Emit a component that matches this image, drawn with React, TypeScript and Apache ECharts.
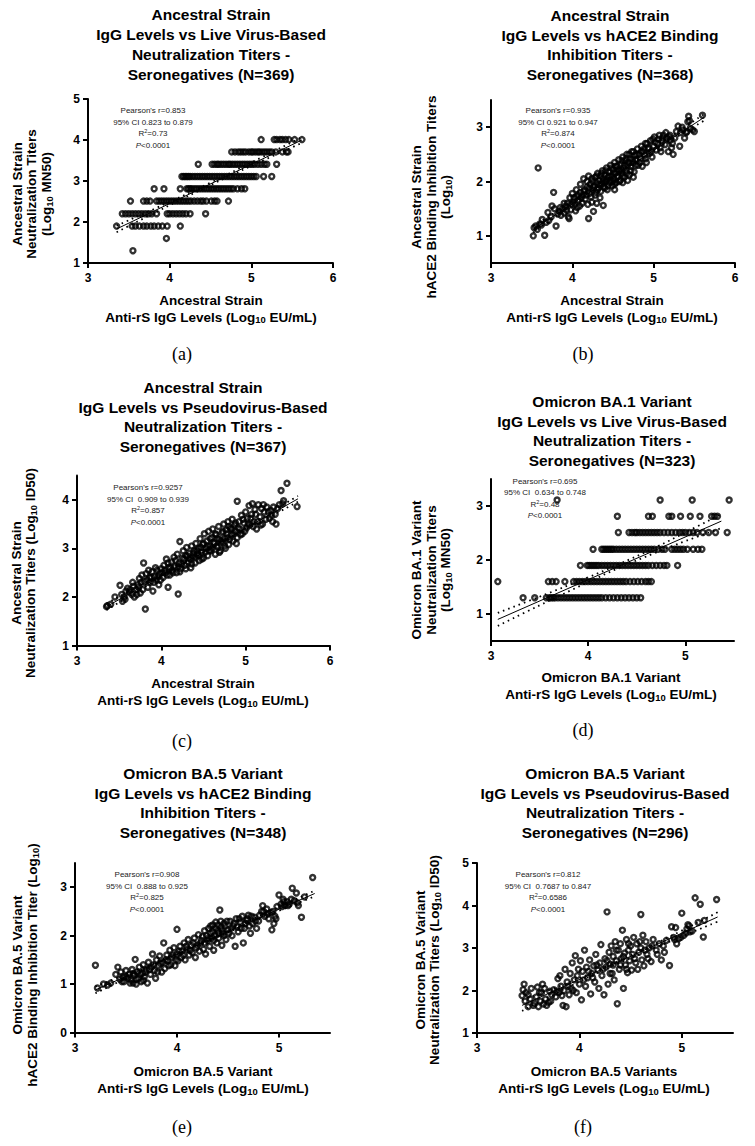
import React, { useEffect, useRef } from 'react';
import * as echarts from 'echarts';

const FONT = '"Liberation Sans", Arial, sans-serif';
const SERIF = '"Liberation Serif", "Times New Roman", serif';

// ---------- Panel (a): Ancestral, live-virus MN50 (discrete titer rows) ----------
const aRowY = [4.01, 3.71, 3.41, 3.11, 2.81, 2.51, 2.2, 1.9, 1.6, 1.3];
const aRowX = [
  [5.12, 5.28, 5.31, 5.35, 5.38, 5.42, 5.46, 5.53, 5.62],
  [4.76, 4.8, 4.84, 4.87, 4.9, 4.93, 4.97, 5.0, 5.02, 5.05, 5.08, 5.1, 5.13, 5.16, 5.19, 5.22, 5.25, 5.3, 5.38, 5.43, 5.45],
  [4.35, 4.52, 4.55, 4.58, 4.6, 4.63, 4.66, 4.69, 4.72, 4.74, 4.77, 4.8, 4.83, 4.86, 4.89, 4.92, 4.95, 4.98, 5.01, 5.04, 5.08, 5.12, 5.16, 5.19, 5.31],
  [4.15, 4.17, 4.19, 4.21, 4.23, 4.25, 4.28, 4.31, 4.34, 4.37, 4.4, 4.43, 4.46, 4.49, 4.52, 4.55, 4.58, 4.61, 4.64, 4.67, 4.7, 4.73, 4.76, 4.79, 4.82, 4.85, 4.88, 4.91, 4.94, 4.97, 5.0, 5.03, 5.06, 5.15, 5.25],
  [3.81, 3.93, 4.13, 4.21, 4.23, 4.25, 4.27, 4.3, 4.33, 4.36, 4.39, 4.42, 4.45, 4.48, 4.51, 4.54, 4.57, 4.6, 4.63, 4.66, 4.69, 4.72, 4.75, 4.78, 4.83, 4.88, 4.92],
  [3.52, 3.68, 3.72, 3.76, 3.84, 3.87, 3.9, 3.93, 3.96, 3.99, 4.02, 4.05, 4.08, 4.11, 4.14, 4.17, 4.2, 4.23, 4.26, 4.3, 4.34, 4.38, 4.41, 4.45, 4.51, 4.55, 4.58, 4.72],
  [3.42, 3.46, 3.5, 3.54, 3.58, 3.62, 3.66, 3.7, 3.74, 3.78, 3.84, 3.97, 4.0, 4.04, 4.08, 4.12, 4.16, 4.2, 4.25, 4.44],
  [3.35, 3.54, 3.58, 3.63, 3.68, 3.72, 3.77, 3.81, 3.86, 3.91, 3.97, 4.13],
  [3.96],
  [3.55],
];
const aFit = [[3.35, 1.83], [5.62, 4.0]];
const aCiHi = [[3.35, 1.91], [4.0, 2.49], [4.5, 2.96], [5.0, 3.45], [5.62, 4.07]];
const aCiLo = [[3.35, 1.75], [4.0, 2.41], [4.5, 2.90], [5.0, 3.37], [5.62, 3.93]];

// ---------- Panel (b): Ancestral, hACE2 binding inhibition ----------
const bPts = [
  [3.52, 1.0], [3.53, 1.15], [3.55, 1.18], [3.57, 1.12], [3.6, 1.22], [3.62, 1.2], [3.63, 1.3], [3.66, 1.01], [3.68, 1.25], [3.7, 1.43],
  [3.71, 1.28], [3.74, 1.35], [3.75, 1.55], [3.77, 1.8], [3.78, 1.5], [3.8, 1.18], [3.82, 1.4], [3.84, 1.45], [3.86, 1.38], [3.88, 1.5],
  [3.9, 1.42], [3.92, 1.55], [3.94, 1.6], [3.95, 1.35], [3.96, 1.32], [3.97, 1.7], [3.98, 1.48], [4.0, 1.78], [4.01, 1.62], [4.03, 1.58],
  [4.05, 1.72], [4.06, 1.52], [4.08, 1.66], [4.1, 1.8], [4.1, 1.95], [4.12, 1.6], [4.13, 1.75], [4.14, 2.05], [4.15, 1.85], [4.16, 1.68],
  [4.18, 1.9], [4.19, 1.58], [4.2, 1.32], [4.2, 2.1], [4.21, 1.78], [4.22, 1.95], [4.24, 1.62], [4.25, 1.85], [4.25, 2.0], [4.26, 1.45],
  [4.27, 1.92], [4.28, 2.08], [4.29, 1.8], [4.3, 1.98], [4.31, 2.15], [4.32, 1.88], [4.33, 2.02], [4.34, 1.7], [4.35, 2.1], [4.36, 1.95],
  [4.37, 2.2], [4.38, 1.56], [4.38, 2.05], [4.39, 1.9], [4.4, 2.12], [4.41, 2.0], [4.42, 2.25], [4.43, 1.85], [4.44, 2.08], [4.45, 2.18],
  [4.46, 1.98], [4.47, 2.3], [4.48, 2.1], [4.49, 1.92], [4.5, 2.22], [4.51, 2.05], [4.52, 2.35], [4.53, 2.15], [4.54, 1.98], [4.55, 2.28],
  [4.56, 2.1], [4.57, 2.4], [4.58, 2.2], [4.59, 2.02], [4.6, 2.32], [4.61, 2.15], [4.62, 2.45], [4.63, 2.25], [4.64, 2.08], [4.65, 2.38],
  [4.66, 2.2], [4.67, 2.5], [4.68, 2.3], [4.7, 2.12], [4.71, 2.42], [4.72, 2.28], [4.73, 2.55], [4.75, 2.35], [4.76, 2.18], [4.77, 2.48],
  [4.78, 2.4], [4.8, 2.6], [4.81, 2.3], [4.82, 2.5], [4.84, 2.42], [4.85, 2.65], [4.86, 2.28], [4.87, 2.55], [4.89, 2.48], [4.9, 2.7],
  [4.91, 2.35], [4.93, 2.6], [4.95, 2.52], [4.96, 2.75], [4.98, 2.45], [5.0, 2.65], [5.01, 2.82], [5.03, 2.58], [5.05, 2.7], [5.07, 2.85],
  [5.08, 2.62], [5.1, 2.75], [5.12, 2.85], [5.14, 2.68], [5.16, 2.8], [5.18, 2.55], [5.19, 2.82], [5.2, 2.75], [5.22, 2.62], [5.24, 2.5],
  [5.26, 2.8], [5.28, 2.92], [5.3, 3.02], [5.32, 2.65], [5.33, 2.9], [5.36, 2.95], [5.4, 2.9], [5.42, 3.1], [5.43, 3.2], [5.45, 2.98],
  [5.48, 2.95], [5.5, 2.92], [5.6, 3.22], [3.58, 2.25],
];
const bPtsMore = [
  [3.85, 1.52], [3.9, 1.6], [3.93, 1.47], [3.99, 1.58], [4.02, 1.7], [4.04, 1.46], [4.07, 1.75], [4.09, 1.55], [4.11, 1.7], [4.14, 1.82],
  [4.17, 1.75], [4.18, 2.0], [4.21, 1.88], [4.23, 1.72], [4.24, 2.05], [4.26, 1.9], [4.28, 1.75], [4.3, 2.1], [4.31, 1.85], [4.33, 1.95],
  [4.35, 1.82], [4.36, 2.15], [4.38, 2.0], [4.4, 1.88], [4.41, 2.2], [4.42, 2.02], [4.44, 1.92], [4.45, 2.1], [4.47, 2.02], [4.48, 2.25],
  [4.5, 2.0], [4.51, 2.15], [4.52, 1.95], [4.53, 2.28], [4.55, 2.08], [4.56, 2.22], [4.58, 2.0], [4.6, 2.2], [4.61, 2.38], [4.62, 2.1],
  [4.64, 2.3], [4.66, 2.42], [4.67, 2.15], [4.69, 2.35], [4.7, 2.5], [4.72, 2.2], [4.74, 2.4], [4.75, 2.55], [4.78, 2.3], [4.79, 2.5],
  [4.83, 2.35], [4.85, 2.55], [4.88, 2.6], [4.9, 2.42], [4.92, 2.7], [4.94, 2.62], [4.97, 2.55], [4.99, 2.78], [5.02, 2.72], [5.06, 2.78],
  [5.09, 2.55], [5.11, 2.8], [5.15, 2.9], [5.2, 2.85], [5.23, 2.7], [5.35, 3.0], [5.38, 2.8], [5.41, 2.92], [5.44, 3.12], [4.62, 1.98],
  [4.75, 2.08], [4.52, 1.85], [4.05, 1.85], [4.3, 1.6], [4.68, 2.02],
];
const bFit = [[3.52, 1.12], [5.62, 3.18]];
const bCiHi = [[3.52, 1.18], [4.0, 1.63], [4.5, 2.12], [5.0, 2.62], [5.62, 3.24]];
const bCiLo = [[3.52, 1.06], [4.0, 1.57], [4.5, 2.08], [5.0, 2.56], [5.62, 3.12]];

// ---------- Panel (c): Ancestral, pseudovirus ID50 ----------
const cPts = [
  [3.35, 1.8], [3.36, 1.82], [3.4, 1.85], [3.51, 2.24], [3.53, 2.05], [3.54, 1.91], [3.56, 2.0], [3.58, 2.12], [3.6, 2.18], [3.62, 2.1],
  [3.65, 2.05], [3.67, 2.22], [3.68, 2.0], [3.7, 2.15], [3.72, 2.25], [3.74, 2.38], [3.75, 2.08], [3.77, 2.45], [3.79, 2.7], [3.8, 2.32],
  [3.81, 1.75], [3.82, 2.48], [3.84, 2.2], [3.86, 2.4], [3.87, 2.3], [3.89, 2.52], [3.9, 2.12], [3.92, 2.42], [3.94, 2.35], [3.95, 2.55],
  [3.97, 2.25], [3.98, 2.48], [4.0, 2.58], [4.02, 2.4], [4.03, 2.65], [4.05, 2.5], [4.06, 2.78], [4.08, 2.2], [4.09, 2.6], [4.1, 2.45],
  [4.12, 2.72], [4.13, 2.55], [4.15, 2.82], [4.16, 2.62], [4.18, 2.5], [4.19, 2.88], [4.2, 2.06], [4.21, 2.7], [4.22, 3.14], [4.23, 2.58],
  [4.25, 2.8], [4.26, 2.95], [4.28, 2.65], [4.29, 2.85], [4.3, 3.02], [4.32, 2.72], [4.33, 2.9], [4.35, 2.6], [4.36, 3.05], [4.37, 2.82],
  [4.39, 2.95], [4.4, 2.7], [4.41, 3.1], [4.43, 2.88], [4.44, 3.0], [4.45, 2.75], [4.46, 3.2], [4.48, 2.92], [4.49, 3.08], [4.5, 2.8],
  [4.51, 3.3], [4.53, 3.0], [4.54, 3.15], [4.55, 2.85], [4.56, 3.35], [4.58, 3.05], [4.59, 2.95], [4.6, 3.22], [4.61, 3.4], [4.63, 3.1],
  [4.64, 2.88], [4.65, 3.28], [4.67, 3.02], [4.68, 3.45], [4.69, 3.18], [4.7, 2.95], [4.72, 3.32], [4.73, 3.12], [4.74, 3.5], [4.75, 3.05],
  [4.77, 3.38], [4.78, 3.22], [4.79, 3.55], [4.8, 3.08], [4.82, 3.42], [4.83, 3.28], [4.84, 3.6], [4.85, 3.15], [4.87, 3.48], [4.88, 3.35],
  [4.9, 3.97], [4.9, 3.22], [4.92, 3.55], [4.93, 3.4], [4.95, 3.68], [4.96, 3.3], [4.98, 3.52], [5.0, 3.75], [5.01, 3.42], [5.02, 3.62],
  [5.04, 3.88], [5.05, 3.48], [5.07, 3.7], [5.08, 3.92], [5.1, 3.55], [5.11, 3.8], [5.13, 3.4], [5.15, 3.9], [5.17, 3.65], [5.19, 3.82],
  [5.2, 3.5], [5.22, 3.75], [5.25, 3.85], [5.28, 3.62], [5.3, 3.78], [5.32, 3.55], [5.35, 3.7], [5.38, 3.82], [5.4, 3.9], [5.42, 4.19],
  [5.45, 3.98], [5.49, 4.34], [5.61, 3.86],
];
const cPtsMore = [
  [3.45, 2.0], [3.57, 1.95], [3.63, 2.15], [3.66, 2.3], [3.71, 2.05], [3.73, 2.2], [3.76, 2.3], [3.78, 2.15], [3.83, 2.35], [3.85, 2.55],
  [3.88, 2.4], [3.91, 2.3], [3.93, 2.6], [3.96, 2.42], [3.99, 2.35], [4.01, 2.5], [4.04, 2.55], [4.07, 2.45], [4.08, 2.7], [4.11, 2.6],
  [4.14, 2.5], [4.17, 2.75], [4.2, 2.62], [4.22, 2.52], [4.24, 2.68], [4.27, 2.78], [4.29, 2.58], [4.31, 2.85], [4.34, 2.78], [4.36, 2.68],
  [4.38, 2.9], [4.4, 2.82], [4.42, 2.95], [4.44, 2.85], [4.47, 3.02], [4.48, 2.78], [4.5, 3.1], [4.52, 2.92], [4.55, 3.05], [4.57, 2.95],
  [4.58, 3.2], [4.6, 3.0], [4.62, 3.12], [4.64, 3.3], [4.66, 3.05], [4.67, 3.2], [4.69, 2.92], [4.71, 3.15], [4.73, 3.35], [4.75, 3.2],
  [4.76, 3.0], [4.78, 3.3], [4.8, 3.45], [4.81, 3.18], [4.83, 3.4], [4.86, 3.3], [4.88, 3.52], [4.89, 3.1], [4.91, 3.42], [4.94, 3.28],
  [4.97, 3.6], [4.99, 3.35], [5.03, 3.5], [5.06, 3.62], [5.09, 3.45], [5.12, 3.7], [5.14, 3.55], [5.18, 3.48], [5.21, 3.9], [5.24, 3.6],
  [5.27, 3.75], [5.31, 3.68], [5.33, 3.85], [5.36, 3.5], [5.44, 3.92],
];
const cFit = [[3.35, 1.8], [5.62, 4.02]];
const cCiHi = [[3.35, 1.87], [4.0, 2.47], [4.5, 2.95], [5.0, 3.44], [5.62, 4.08]];
const cCiLo = [[3.35, 1.73], [4.0, 2.41], [4.5, 2.91], [5.0, 3.38], [5.62, 3.96]];

// ---------- Panel (d): Omicron BA.1, live-virus MN50 (discrete titer rows) ----------
const dRowY = [3.11, 2.81, 2.51, 2.2, 1.9, 1.6, 1.3];
const dRowX = [
  [3.68, 4.74, 5.07, 5.45],
  [4.3, 4.62, 4.66, 4.83, 4.86, 4.95, 5.05, 5.15, 5.27, 5.3, 5.33],
  [4.31, 4.42, 4.45, 4.48, 4.5, 4.53, 4.56, 4.59, 4.62, 4.65, 4.68, 4.71, 4.74, 4.78, 4.82, 4.86, 4.9, 4.94, 4.97, 5.0, 5.04, 5.08, 5.12, 5.18, 5.24, 5.31, 5.43],
  [4.05, 4.14, 4.16, 4.18, 4.2, 4.22, 4.24, 4.26, 4.29, 4.32, 4.35, 4.38, 4.41, 4.44, 4.47, 4.5, 4.53, 4.56, 4.59, 4.62, 4.65, 4.68, 4.72, 4.76, 4.79, 4.86, 4.89, 4.92, 4.95, 4.98, 5.02, 5.08, 5.13, 5.17],
  [3.92, 3.99, 4.01, 4.03, 4.05, 4.07, 4.09, 4.11, 4.14, 4.17, 4.2, 4.23, 4.26, 4.29, 4.32, 4.35, 4.38, 4.41, 4.44, 4.47, 4.5, 4.53, 4.56, 4.59, 4.62, 4.66, 4.7, 4.74, 4.78, 4.81, 4.92],
  [3.07, 3.59, 3.63, 3.67, 3.76, 3.85, 3.88, 3.91, 3.94, 3.97, 4.0, 4.03, 4.06, 4.09, 4.12, 4.15, 4.18, 4.21, 4.24, 4.27, 4.3, 4.33, 4.36, 4.39, 4.43, 4.47, 4.51, 4.55, 4.59, 4.62, 4.65],
  [3.33, 3.45, 3.57, 3.6, 3.62, 3.64, 3.66, 3.69, 3.72, 3.75, 3.78, 3.81, 3.84, 3.87, 3.9, 3.93, 3.96, 3.99, 4.02, 4.05, 4.08, 4.11, 4.14, 4.18, 4.22, 4.26, 4.3, 4.34, 4.38, 4.42, 4.46, 4.5, 4.54],
];
const dFit = [[3.07, 0.9], [5.37, 2.72]];
const dCiHi = [[3.07, 1.02], [3.5, 1.32], [4.0, 1.68], [4.3, 1.91], [4.7, 2.24], [5.0, 2.51], [5.37, 2.85]];
const dCiLo = [[3.07, 0.78], [3.5, 1.16], [4.0, 1.59], [4.3, 1.84], [4.7, 2.14], [5.0, 2.35], [5.37, 2.59]];

// ---------- Panel (e): Omicron BA.5, hACE2 binding inhibition ----------
const ePts = [
  [3.2, 1.39], [3.22, 0.92], [3.28, 1.0], [3.32, 0.98], [3.35, 1.02], [3.4, 1.2], [3.42, 1.35], [3.44, 1.1], [3.45, 1.25], [3.47, 1.15],
  [3.48, 1.05], [3.5, 1.28], [3.52, 1.12], [3.53, 1.2], [3.55, 1.08], [3.56, 1.3], [3.57, 1.02], [3.58, 1.18], [3.59, 1.51], [3.6, 1.0],
  [3.61, 1.25], [3.62, 1.12], [3.63, 1.35], [3.65, 1.05], [3.66, 1.22], [3.67, 1.4], [3.68, 1.15], [3.7, 1.3], [3.71, 1.02], [3.72, 1.45],
  [3.74, 1.2], [3.75, 1.35], [3.76, 1.62], [3.78, 1.28], [3.79, 1.12], [3.8, 1.5], [3.82, 1.38], [3.83, 1.58], [3.85, 1.25], [3.86, 1.45],
  [3.87, 1.85], [3.88, 1.32], [3.9, 1.6], [3.91, 1.48], [3.93, 1.7], [3.94, 1.4], [3.95, 1.55], [3.97, 1.75], [3.98, 1.38], [4.0, 2.13],
  [4.0, 1.62], [4.01, 1.48], [4.03, 1.78], [4.04, 1.55], [4.05, 1.68], [4.07, 1.85], [4.08, 1.5], [4.1, 1.72], [4.11, 1.92], [4.12, 1.6],
  [4.14, 1.8], [4.15, 1.65], [4.17, 1.95], [4.18, 1.55], [4.19, 1.75], [4.21, 2.02], [4.22, 1.68], [4.23, 1.85], [4.25, 1.98], [4.26, 1.72],
  [4.27, 2.1], [4.28, 1.62], [4.3, 1.9], [4.31, 2.15], [4.32, 1.78], [4.33, 2.05], [4.34, 1.95], [4.35, 2.22], [4.36, 1.7], [4.37, 2.0],
  [4.38, 2.28], [4.39, 1.85], [4.4, 2.1], [4.41, 1.95], [4.42, 2.53], [4.43, 2.18], [4.44, 1.8], [4.45, 2.05], [4.46, 2.25], [4.48, 1.92],
  [4.5, 2.12], [4.52, 2.3], [4.54, 2.0], [4.55, 2.2], [4.57, 1.78], [4.58, 2.35], [4.6, 2.08], [4.62, 2.28], [4.64, 2.4], [4.65, 1.85],
  [4.66, 2.15], [4.68, 2.32], [4.7, 2.42], [4.72, 2.05], [4.74, 2.25], [4.76, 2.38], [4.78, 2.15], [4.8, 2.3], [4.83, 2.5], [4.84, 2.62],
  [4.86, 2.4], [4.88, 2.55], [4.9, 2.35], [4.92, 2.48], [4.93, 2.12], [4.95, 2.25], [4.96, 2.4], [4.98, 2.6], [5.0, 2.84], [5.02, 2.65],
  [5.04, 2.75], [5.06, 2.62], [5.08, 2.7], [5.1, 2.65], [5.13, 2.98], [5.15, 2.72], [5.17, 2.88], [5.19, 2.62], [5.22, 2.38], [5.25, 2.8],
  [5.33, 3.2],
];
const ePtsMore = [
  [3.46, 1.05], [3.5, 1.15], [3.54, 1.02], [3.57, 1.22], [3.6, 1.1], [3.64, 1.2], [3.67, 1.08], [3.69, 1.25], [3.73, 1.3], [3.77, 1.4],
  [3.81, 1.25], [3.84, 1.42], [3.89, 1.5], [3.92, 1.38], [3.96, 1.6], [3.99, 1.5], [4.02, 1.68], [4.06, 1.6], [4.09, 1.78], [4.13, 1.7],
  [4.16, 1.85], [4.2, 1.8], [4.24, 1.9], [4.27, 1.85], [4.29, 2.0], [4.31, 1.95], [4.33, 2.2], [4.35, 2.08], [4.36, 1.9], [4.38, 2.15],
  [4.4, 2.22], [4.41, 2.05], [4.43, 2.3], [4.44, 2.12], [4.46, 2.0], [4.47, 2.2], [4.49, 2.3], [4.51, 2.05], [4.53, 2.15], [4.56, 2.25],
  [4.59, 2.18], [4.61, 2.35], [4.63, 2.15], [4.67, 2.25], [4.69, 2.35], [4.71, 2.2], [4.73, 2.4], [4.77, 2.3], [4.81, 2.42], [4.85, 2.5],
  [4.89, 2.45], [4.94, 2.5], [4.97, 2.35], [5.03, 2.6], [5.05, 2.7], [5.09, 2.62], [5.12, 2.75], [5.18, 2.68],
];
const eFit = [[3.2, 0.88], [5.35, 2.87]];
const eCiHi = [[3.2, 0.95], [3.8, 1.46], [4.3, 1.92], [4.8, 2.40], [5.35, 2.93]];
const eCiLo = [[3.2, 0.81], [3.8, 1.42], [4.3, 1.88], [4.8, 2.34], [5.35, 2.81]];

// ---------- Panel (f): Omicron BA.5, pseudovirus ID50 ----------
const fPts = [
  [3.44, 1.88], [3.45, 2.02], [3.46, 2.15], [3.47, 1.75], [3.48, 1.95], [3.5, 1.62], [3.52, 1.8], [3.53, 2.05], [3.55, 1.65], [3.56, 1.7],
  [3.58, 1.85], [3.59, 2.08], [3.6, 1.62], [3.62, 1.75], [3.63, 1.95], [3.64, 2.15], [3.65, 1.68], [3.67, 1.8], [3.68, 1.65], [3.7, 1.72],
  [3.71, 1.98], [3.73, 1.9], [3.75, 2.02], [3.77, 1.85], [3.79, 2.28], [3.8, 1.95], [3.81, 2.35], [3.82, 2.1], [3.84, 1.65], [3.85, 2.0],
  [3.86, 2.5], [3.87, 1.62], [3.88, 2.2], [3.9, 1.9], [3.91, 2.4], [3.92, 2.05], [3.93, 2.65], [3.95, 2.25], [3.96, 2.82], [3.97, 1.95],
  [3.98, 2.35], [4.0, 2.15], [4.01, 2.7], [4.02, 1.78], [4.03, 2.45], [4.05, 2.95], [4.06, 2.1], [4.07, 2.55], [4.08, 2.3], [4.1, 2.72],
  [4.11, 1.92], [4.12, 2.4], [4.14, 2.58], [4.15, 2.2], [4.16, 2.85], [4.18, 2.48], [4.19, 2.05], [4.2, 2.65], [4.21, 3.08], [4.22, 2.35],
  [4.24, 1.9], [4.25, 2.75], [4.26, 2.55], [4.27, 3.85], [4.28, 2.15], [4.29, 2.9], [4.3, 2.62], [4.31, 3.05], [4.32, 2.4], [4.33, 2.8],
  [4.34, 2.25], [4.35, 3.15], [4.36, 2.7], [4.37, 1.69], [4.38, 2.95], [4.39, 2.5], [4.4, 3.1], [4.41, 2.75], [4.42, 3.42], [4.43, 2.05],
  [4.44, 2.88], [4.45, 2.6], [4.46, 3.2], [4.47, 2.42], [4.48, 2.95], [4.49, 2.7], [4.5, 3.05], [4.51, 2.48], [4.52, 2.85], [4.53, 3.25],
  [4.55, 2.65], [4.56, 3.1], [4.57, 2.5], [4.58, 2.9], [4.6, 3.79], [4.6, 3.0], [4.61, 2.72], [4.62, 3.3], [4.63, 2.58], [4.65, 3.15],
  [4.66, 2.85], [4.68, 3.0], [4.7, 2.68], [4.72, 3.2], [4.75, 2.95], [4.78, 3.1], [4.8, 2.72], [4.82, 3.05], [4.85, 3.18], [4.88, 2.59],
  [4.9, 3.5], [4.92, 3.25], [4.94, 3.48], [4.95, 3.1], [4.97, 3.22], [5.0, 3.82], [5.02, 3.3], [5.05, 3.45], [5.07, 3.52], [5.08, 3.38],
  [5.1, 3.4], [5.13, 4.18], [5.16, 3.6], [5.18, 4.03], [5.21, 3.26], [5.22, 3.65], [5.34, 4.14],
];
const fPtsMore = [
  [3.5, 1.9], [3.61, 1.95], [3.66, 2.05], [3.72, 1.75], [3.78, 1.98], [3.83, 1.88], [3.89, 2.1], [3.94, 2.0], [3.99, 2.5], [4.04, 2.25],
  [4.09, 2.45], [4.13, 2.3], [4.17, 2.6], [4.23, 2.5], [4.27, 2.7], [4.3, 2.4], [4.33, 2.6], [4.36, 2.95], [4.4, 2.6], [4.43, 2.8],
  [4.46, 2.5], [4.48, 3.1], [4.54, 2.75], [4.59, 3.15], [4.64, 2.95], [4.67, 2.75], [4.71, 3.05], [4.76, 2.85], [4.83, 2.9], [4.93, 3.2],
  [4.99, 3.25], [5.04, 3.35], [5.06, 3.55],
];
const fFit = [[3.44, 1.65], [5.35, 3.73]];
const fCiHi = [[3.44, 1.78], [3.9, 2.19], [4.3, 2.61], [4.8, 3.17], [5.35, 3.84]];
const fCiLo = [[3.44, 1.52], [3.9, 2.09], [4.3, 2.55], [4.8, 3.07], [5.35, 3.62]];

// ---------- Axes ----------
const xTicksA = [3, 4, 5, 6];
const xTicksB = [3, 4, 5];
const yTicks1to5 = [1, 2, 3, 4, 5];
const yTicks1to3 = [1, 2, 3];
const yTicks1to4 = [1, 2, 3, 4];
const yTicks0to3 = [0, 1, 2, 3];

const aPts = aRowY.flatMap((y, i) => aRowX[i].map((x) => [x, y]));
const dPts = dRowY.flatMap((y, i) => dRowX[i].map((x) => [x, y]));

const panels = [
  { grid: { left: 88, top: 99, width: 245, height: 164 }, x: [3, 6], xt: xTicksA, y: [1, 5], yt: yTicks1to5, pts: aPts, fit: aFit, hi: aCiHi, lo: aCiLo },
  { grid: { left: 491, top: 100, width: 244, height: 163 }, x: [3, 6], xt: xTicksA, y: [0.5, 3.5], yt: yTicks1to3, pts: bPts.concat(bPtsMore), fit: bFit, hi: bCiHi, lo: bCiLo },
  { grid: { left: 77, top: 475.5, width: 253, height: 170 }, x: [3, 6], xt: xTicksA, y: [1, 4.5], yt: yTicks1to4, pts: cPts.concat(cPtsMore), fit: cFit, hi: cCiHi, lo: cCiLo },
  { grid: { left: 491, top: 479, width: 243, height: 162 }, x: [3, 5.5], xt: xTicksB, y: [0.5, 3.5], yt: yTicks1to3, pts: dPts, fit: dFit, hi: dCiHi, lo: dCiLo },
  { grid: { left: 75, top: 863, width: 255, height: 169.5 }, x: [3, 5.5], xt: xTicksB, y: [0, 3.5], yt: yTicks0to3, pts: ePts.concat(ePtsMore), fit: eFit, hi: eCiHi, lo: eCiLo },
  { grid: { left: 477, top: 863, width: 256, height: 170 }, x: [3, 5.5], xt: xTicksB, y: [1, 5], yt: yTicks1to5, pts: fPts.concat(fPtsMore), fit: fFit, hi: fCiHi, lo: fCiLo },
];

// ---------- Texts ----------
const titles = [
  { x: 211, y: 44.5, t: 'Ancestral Strain\nIgG Levels vs Live Virus-Based\nNeutralization Titers -\nSeronegatives (N=369)' },
  { x: 610, y: 45, t: 'Ancestral Strain\nIgG Levels vs hACE2 Binding\nInhibition Titers -\nSeronegatives (N=368)' },
  { x: 203, y: 417, t: 'Ancestral Strain\nIgG Levels vs Pseudovirus-Based\nNeutralization Titers -\nSeronegatives (N=367)' },
  { x: 612, y: 431, t: 'Omicron BA.1 Variant\nIgG Levels vs Live Virus-Based\nNeutralization Titers -\nSeronegatives (N=323)' },
  { x: 203, y: 803, t: 'Omicron BA.5 Variant\nIgG Levels vs hACE2 Binding\nInhibition Titers -\nSeronegatives (N=348)' },
  { x: 605, y: 803, t: 'Omicron BA.5 Variant\nIgG Levels vs Pseudovirus-Based\nNeutralization Titers -\nSeronegatives (N=296)' },
];
const xTitles = [
  { x: 211, y: 308.5, t: 'Ancestral Strain\nAnti-rS IgG Levels (Log{sub|10} EU/mL)' },
  { x: 612, y: 308.5, t: 'Ancestral Strain\nAnti-rS IgG Levels (Log{sub|10} EU/mL)' },
  { x: 203, y: 692, t: 'Ancestral Strain\nAnti-rS IgG Levels (Log{sub|10} EU/mL)' },
  { x: 611, y: 686, t: 'Omicron BA.1 Variant\nAnti-rS IgG Levels (Log{sub|10} EU/mL)' },
  { x: 203, y: 1080, t: 'Omicron BA.5 Variant\nAnti-rS IgG Levels (Log{sub|10} EU/mL)' },
  { x: 604, y: 1080, t: 'Omicron BA.5 Variants\nAnti-rS IgG Levels (Log{sub|10} EU/mL)' },
];
const yTitles = [
  { x: 31.7, y: 194, t: 'Ancestral Strain\nNeutralization Titers\n(Log{sub|10} MN50)' },
  { x: 431, y: 197, t: 'Ancestral Strain\nhACE2 Binding Inhibition Titers\n(Log{sub|10})' },
  { x: 23.5, y: 573, t: 'Ancestral Strain\nNeutralization Titers (Log{sub|10} ID50)' },
  { x: 431, y: 570, t: 'Omicron BA.1 Variant\nNeutralization Titers\n(Log{sub|10} MN50)' },
  { x: 25, y: 965, t: 'Omicron BA.5 Variant\nhACE2 Binding Inhibition Titer (Log{sub|10})' },
  { x: 427.5, y: 960, t: 'Omicron BA.5 Variant\nNeutralization Titers (Log{sub|10} ID50)' },
];
const stats = [
  { x: 153, y: 128, t: "Pearson's r=0.853\n95% CI 0.823 to 0.879\nR{sup|2}=0.73\n{i|P}<0.0001" },
  { x: 558, y: 128, t: "Pearson's r=0.935\n95% CI 0.921 to 0.947\nR{sup|2}=0.874\n{i|P}<0.0001" },
  { x: 148, y: 505, t: "Pearson's r=0.9257\n95% CI  0.909 to 0.939\nR{sup|2}=0.857\n{i|P}<0.0001" },
  { x: 545, y: 498.5, t: "Pearson's r=0.695\n95% CI  0.634 to 0.748\nR{sup|2}=0.48\n{i|P}<0.0001" },
  { x: 147, y: 892, t: "Pearson's r=0.908\n95% CI  0.888 to 0.925\nR{sup|2}=0.825\n{i|P}<0.0001" },
  { x: 548, y: 892, t: "Pearson's r=0.812\n95% CI  0.7687 to 0.847\nR{sup|2}=0.6586\n{i|P}<0.0001" },
];
const panelLabels = [
  { x: 182, y: 354, t: '(a)' },
  { x: 583, y: 354, t: '(b)' },
  { x: 182, y: 741, t: '(c)' },
  { x: 583, y: 730, t: '(d)' },
  { x: 182, y: 1127, t: '(e)' },
  { x: 583, y: 1127, t: '(f)' },
];

function boldText(x: number, y: number, t: string, size: number, lh: number, rotation = 0) {
  return {
    type: 'text', x, y, rotation, silent: true,
    style: {
      text: t, fill: '#000', fontSize: size, fontWeight: 'bold', fontFamily: FONT,
      align: 'center', verticalAlign: 'middle', lineHeight: lh,
      rich: {
        sub: { fontSize: size * 0.7, fontWeight: 'bold', fontFamily: FONT, fill: '#000', padding: [size * 0.42, 0, 0, 0], lineHeight: lh },
      },
    },
  };
}

export default function App() {
  const ref = useRef<HTMLDivElement>(null);
  useEffect(() => {
    if (!ref.current) return;
    const chart = echarts.init(ref.current, null, { renderer: 'svg' });
    const axisLine = { show: true, onZero: false, lineStyle: { color: '#000', width: 2 } };
    const axisTickBase = { show: true, length: 5, lineStyle: { color: '#000', width: 2 } };
    const labelBase = { color: '#000', fontSize: 12, fontWeight: 'bold', fontFamily: FONT };

    const series: any[] = [];
    panels.forEach((p, i) => {
      series.push({
        type: 'scatter', xAxisIndex: i, yAxisIndex: i, data: p.pts, symbol: 'circle', symbolSize: 5,
        itemStyle: { color: 'rgba(0,0,0,0)', borderColor: '#000', borderWidth: 2.4 }, silent: true, z: 2,
      });
      series.push({
        type: 'line', xAxisIndex: i, yAxisIndex: i, data: p.fit, symbol: 'none', silent: true, z: 3,
        lineStyle: { color: '#000', width: 1 },
      });
      [p.hi, p.lo].forEach((ci) =>
        series.push({
          type: 'line', xAxisIndex: i, yAxisIndex: i, data: ci, symbol: 'none', smooth: 0.4, silent: true, z: 3,
          lineStyle: { color: '#000', width: 1.8, type: [1.6, 4] },
        })
      );
    });

    const graphic: any[] = [];
    titles.forEach((t) => graphic.push(boldText(t.x, t.y, t.t, 15.5, 19.7)));
    xTitles.forEach((t) => graphic.push(boldText(t.x, t.y, t.t, 13.5, 17)));
    yTitles.forEach((t) => graphic.push(boldText(t.x, t.y, t.t, 13.5, 14.5, Math.PI / 2)));
    stats.forEach((t) =>
      graphic.push({
        type: 'text', x: t.x, y: t.y, silent: true,
        style: {
          text: t.t, fill: '#222', fontSize: 8, fontFamily: FONT, align: 'center', verticalAlign: 'middle', lineHeight: 11.4,
          rich: {
            sup: { fontSize: 5.5, fontFamily: FONT, fill: '#222', padding: [0, 0, 5, 0], lineHeight: 11.4 },
            i: { fontSize: 8, fontStyle: 'italic', fontFamily: FONT, fill: '#222', lineHeight: 11.4 },
          },
        },
      })
    );
    panelLabels.forEach((t) =>
      graphic.push({
        type: 'text', x: t.x, y: t.y, silent: true,
        style: { text: t.t, fill: '#000', fontSize: 18, fontFamily: SERIF, align: 'center', verticalAlign: 'middle' },
      })
    );

    chart.setOption({
      animation: false,
      backgroundColor: '#fff',
      grid: panels.map((p) => ({ ...p.grid, containLabel: false, outerBoundsMode: 'none' })),
      xAxis: panels.map((p, i) => ({
        type: 'value', gridIndex: i, min: p.x[0], max: p.x[1], axisLine,
        axisTick: { ...axisTickBase, customValues: p.xt },
        axisLabel: { ...labelBase, margin: 9, customValues: p.xt },
        splitLine: { show: false },
      })),
      yAxis: panels.map((p, i) => ({
        type: 'value', gridIndex: i, min: p.y[0], max: p.y[1], axisLine,
        axisTick: { ...axisTickBase, customValues: p.yt },
        axisLabel: { ...labelBase, margin: 8, customValues: p.yt },
        splitLine: { show: false },
      })),
      series,
      graphic,
    });
    return () => chart.dispose();
  }, []);
  return (
    <div
      ref={ref}
      style={{ position: 'fixed', left: 0, top: 0, width: 755, height: 1146, background: '#fff' }}
    />
  );
}
